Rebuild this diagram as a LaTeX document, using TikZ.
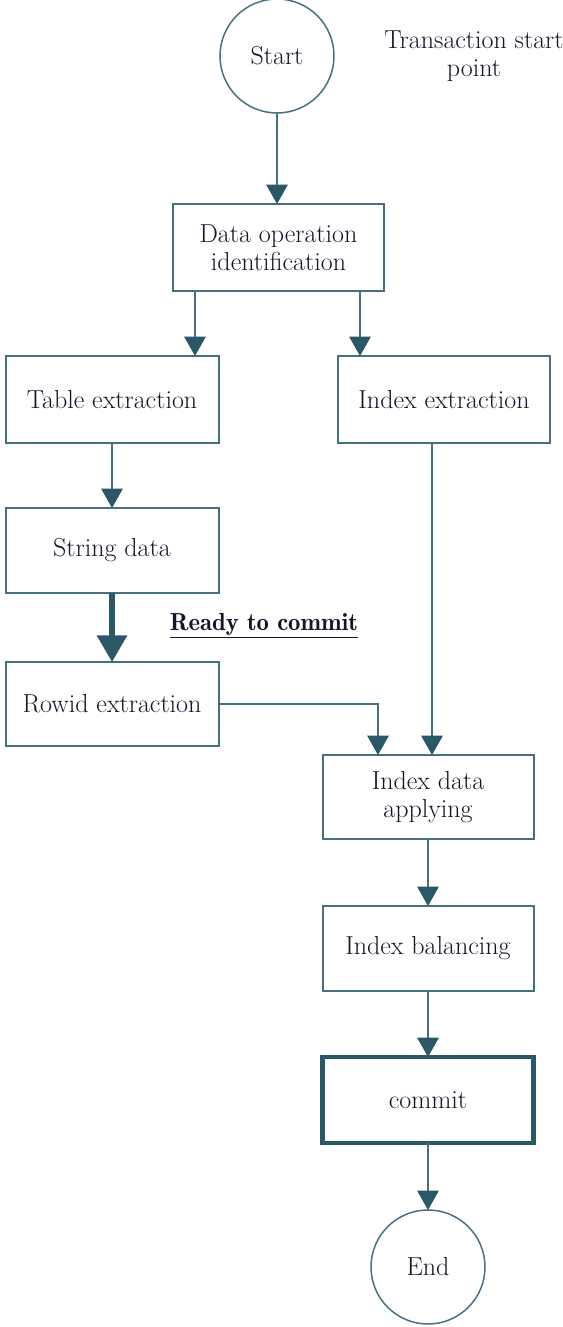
\documentclass[tikz,border=0pt]{standalone}
\usetikzlibrary{arrows.meta}
\definecolor{flowline}{HTML}{46707E}
\definecolor{flowhead}{HTML}{2B5866}
\definecolor{flowtext}{HTML}{15152A}
\begin{document}
\begin{tikzpicture}[x=0.75pt,y=-0.75pt,
  every node/.style={font=\fontsize{19.5}{21}\selectfont, text=flowtext, align=center},
  stepbox/.style={draw=flowline, line width=1.5pt, minimum width=159pt, minimum height=64pt, inner sep=0pt, outer sep=0pt},
  termnode/.style={circle, draw=flowline, line width=1.1pt, minimum size=85.5pt, inner sep=0pt, outer sep=0pt},
  flow/.style={draw=flowline, line width=1.5pt, -{Triangle[width=16pt,length=14.5pt,color=flowhead]}},
  boldflow/.style={draw=flowhead, line width=3.8pt, -{Triangle[width=22pt,length=20pt]}}
]
\useasboundingbox (0,0) rectangle (563,1327);
\fill[white] (0,0) rectangle (563,1327);

% terminals and steps
\node[termnode] (start) at (277,56) {Start};
\node (note) at (474,56) {Transaction start\\point};
\node[stepbox, minimum width=158.25pt, minimum height=65.25pt] (dataop) at (278.5,247.5) {Data operation\\identification};
\node[stepbox, minimum width=159.75pt, minimum height=65.25pt] (table) at (112,399.5) {Table extraction};
\node[stepbox, minimum width=159pt, minimum height=65.25pt] (index) at (444,399.5) {Index extraction};
\node[stepbox, minimum width=159.75pt, minimum height=63.75pt] (string) at (112,550.5) {String data};
\node[stepbox, minimum width=159.75pt, minimum height=63pt] (rowid) at (112,704) {Rowid extraction};
\node[font=\fontsize{18.5}{20.5}\fontseries{b}\selectfont] (ready) at (264,626) {\underline{Ready to commit}};
\node[stepbox, minimum width=158.25pt, minimum height=63pt] (apply) at (428,797) {Index data\\applying};
\node[stepbox, minimum width=158.25pt, minimum height=63.75pt] (balance) at (428,948.5) {Index balancing};
\node[stepbox, draw=flowhead, line width=3.6pt, minimum width=158.25pt, minimum height=64.5pt] (commit) at (428,1100) {commit};
\node[termnode] (end) at (428,1267) {End};

% connector columns
\coordinate (dl) at (195,0);
\coordinate (dr) at (360,0);
\coordinate (rl) at (378,0);
\coordinate (il) at (432,0);

% connectors
\draw[flow] (start.south) -- (dataop.north -| start.south);
\draw[flow] (dataop.south -| dl) -- (table.north -| dl);
\draw[flow] (dataop.south -| dr) -- (index.north -| dr);
\draw[flow] (table.south) -- (string.north);
\draw[boldflow] (string.south) -- (rowid.north);
\draw[flow] (rowid.east) -| (apply.north -| rl);
\draw[flow] (index.south -| il) -- (apply.north -| il);
\draw[flow] (apply.south) -- (balance.north);
\draw[flow] (balance.south) -- (commit.north);
\draw[flow] (commit.south) -- (end.north);
\end{tikzpicture}
\end{document}
